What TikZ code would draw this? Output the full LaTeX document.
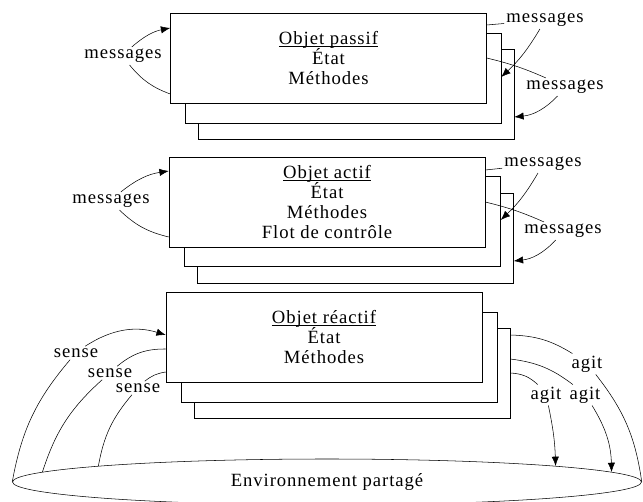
\documentclass[tikz,border=0pt]{standalone}
\usepackage{fontspec}
\setmainfont{Liberation Serif}[LetterSpace=5.0]
\usetikzlibrary{arrows.meta,shapes.geometric}

\tikzset{
  objbox/.style={draw,fill=white,minimum width=237pt,minimum height=67.5pt,inner sep=0pt,align=center},
  lbl/.style={inner sep=1.5pt},
}
\newcommand{\objtitle}[1]{\underline{\raisebox{0pt}[\height][0pt]{#1}}}

\begin{document}
\begin{tikzpicture}[x=0.75pt,y=-0.75pt,>={Latex[length=7pt,width=5.5pt]},font=\fontsize{14}{14.8}\selectfont]
\useasboundingbox (0,0) rectangle (643,502);
% objet passif
\node[objbox] (passif3) at (356,94.5) {};
\node[objbox] (passif2) at (343,78) {};
\node[objbox] (passif) at (328.5,58) {\objtitle{Objet passif}\\État\\Méthodes};
\node[lbl] (msgp1) at (123,56) {messages};
\node[lbl] (msgp2) at (545,20) {messages};
\node[lbl] (msgp3) at (565,87) {messages};
\draw (passif.west |- 0,94) to[bend left=15] (msgp1);
\draw[->] (msgp1) to[bend left=15] (passif.west |- 0,28);
\draw (passif.east |- 0,25) -- (msgp2);
\draw[->] (msgp2) to[bend left=8] (passif2.east |- 0,77);
\draw (passif.east |- 0,58) to[bend left=5] (msgp3);
\draw[->] (msgp3) to[bend left=20] (passif3.east |- 0,117);
% objet actif
\node[objbox] (actif3) at (355.5,238.5) {};
\node[objbox] (actif2) at (342.5,221.5) {};
\node[objbox] (actif) at (327,202) {\objtitle{Objet actif}\\État\\Méthodes\\Flot de contrôle};
\node[lbl] (msga1) at (111,201) {messages};
\node[lbl] (msga2) at (543,164) {messages};
\node[lbl] (msga3) at (563,231) {messages};
\draw (actif.west |- 0,237) to[bend left=15] (msga1);
\draw[->] (msga1) to[bend left=15] (actif.west |- 0,171);
\draw (actif.east |- 0,170) -- (msga2);
\draw[->] (msga2) to[bend left=8] (actif2.east |- 0,220);
\draw (actif.east |- 0,202) to[bend left=5] (msga3);
\draw[->] (msga3) to[bend left=20] (actif3.east |- 0,261);
% objet reactif
\node[objbox] (reactif3) at (352,373) {};
\node[objbox] (reactif2) at (339.5,357) {};
\node[objbox] (reactif) at (324,337) {\objtitle{Objet réactif}\\État\\Méthodes};
\node[draw,ellipse,minimum width=471.75pt,minimum height=34.5pt,inner sep=0pt] (env) at (327,482) {Environnement partagé};
\node[lbl] (sense1) at (76,353) {sense};
\node[lbl] (sense2) at (110,373) {sense};
\node[lbl] (sense3) at (138,388) {sense};
\draw (env.west) to[bend left=15] (sense1);
\draw[->] (sense1) to[bend left=25] (reactif.west |- 0,335);
\draw (env.178) to[bend left=15] (sense2);
\draw (sense2) to[bend left=20] (reactif.west |- 0,349);
\draw (env.176) to[bend left=15] (sense3);
\draw (sense3) to[bend left=15] (reactif.west |- 0,372);
\node[lbl] (agit1) at (587,364) {agit};
\node[lbl] (agit2) at (585,395) {agit};
\node[lbl] (agit3) at (546,395) {agit};
\draw (reactif3.east |- 0,335) to[bend left=15] (agit1);
\draw (agit1) to[bend left=15] (env.east);
\draw (reactif3.east |- 0,359) to[bend left=15] (agit2);
\draw[->] (agit2) to[bend left=15] (env.2);
\draw (reactif3.east |- 0,373) to[bend left=20] (agit3);
\draw[->] (agit3) to[bend left=5] (env.4);
\end{tikzpicture}
\end{document}
